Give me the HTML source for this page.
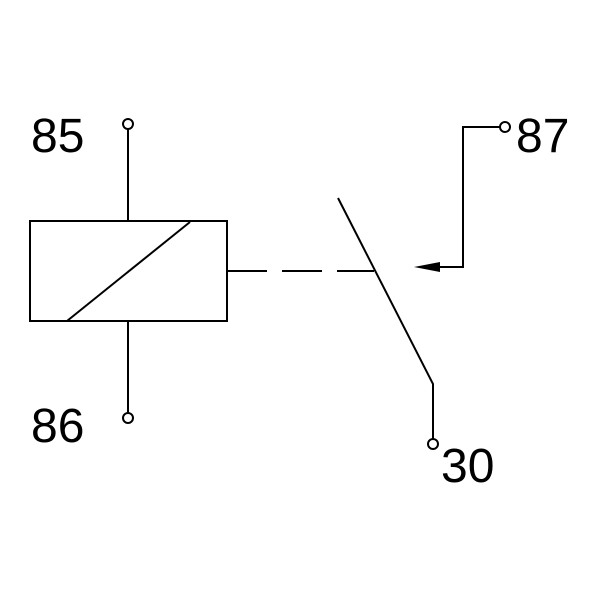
<!DOCTYPE html>
<html><head><meta charset="utf-8"><style>
html,body{margin:0;padding:0;background:#fff;}
svg{display:block;}
text{font-family:"Liberation Sans",Arial,sans-serif;font-size:48px;fill:#000;}
</style></head><body>
<svg width="600" height="600" viewBox="0 0 600 600" xmlns="http://www.w3.org/2000/svg">
<g stroke="#000" stroke-width="2" fill="none">
<rect x="30" y="221" width="197" height="100"/>
<line x1="67" y1="321" x2="190" y2="222"/>
<line x1="128" y1="129" x2="128" y2="221"/>
<line x1="128" y1="321" x2="128" y2="413"/>
<circle cx="128" cy="124" r="5" fill="#fff"/>
<circle cx="128" cy="418" r="5" fill="#fff"/>
<line x1="227" y1="271" x2="267" y2="271"/>
<line x1="282" y1="271" x2="322" y2="271"/>
<line x1="337" y1="271" x2="374" y2="271"/>
<polyline points="338,198 433,384 433,439"/>
<circle cx="433" cy="444" r="5" fill="#fff"/>
<polyline points="500,127 463,127 463,267 438,267"/>
<circle cx="505" cy="127" r="5" fill="#fff"/>
</g>
<polygon points="414,267 440,262 440,272" fill="#000"/>
<text x="31" y="152">85</text>
<text x="31" y="442">86</text>
<text x="516" y="152">87</text>
<text x="441" y="482">30</text>
</svg>
</body></html>
